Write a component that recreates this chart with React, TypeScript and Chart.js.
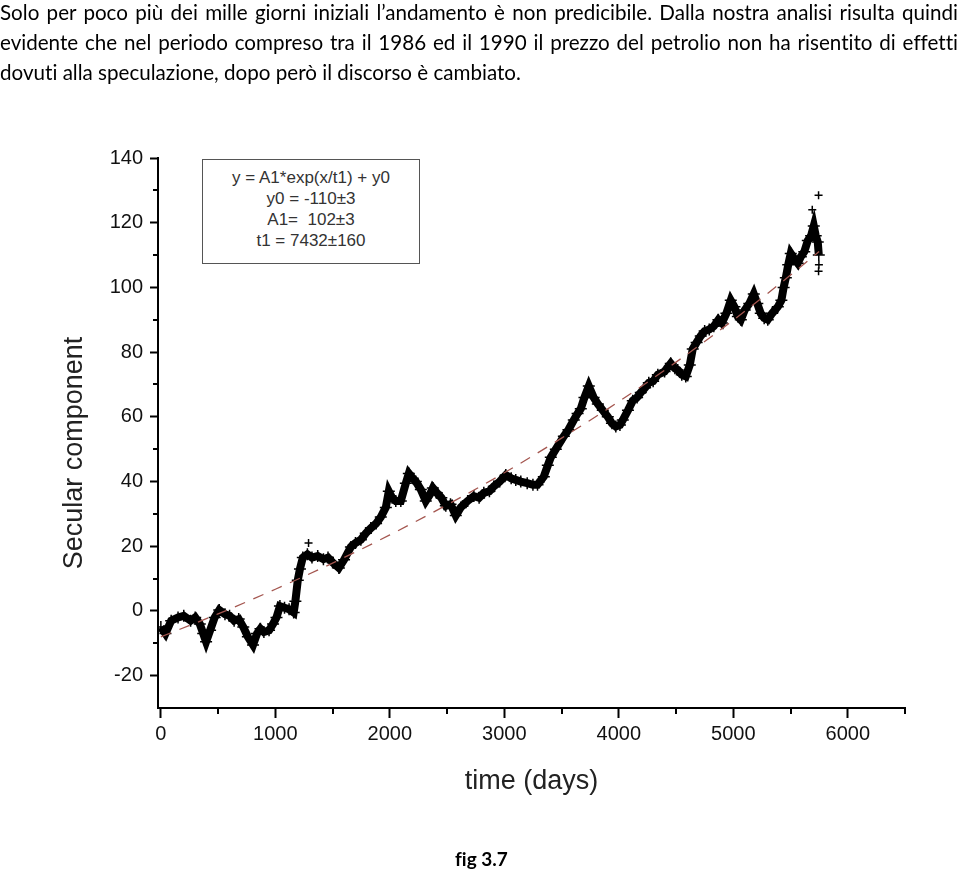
import React, { useEffect, useRef } from "react";
import { Chart, registerables } from "chart.js";

Chart.register(...registerables);

// ---- data ----
const dayValues: number[] = [
  0, 40, 90, 150, 200, 260, 300, 340, 370, 395, 430, 470, 510, 560, 600, 640, 680, 720, 760, 805,
  840, 870, 900, 945, 980, 1010, 1040, 1080, 1120, 1160, 1175, 1196, 1215, 1240, 1280, 1320, 1370,
  1420, 1460, 1500, 1555, 1600, 1660, 1700, 1747, 1790, 1834, 1880, 1921, 1965, 1991, 2020, 2052,
  2096, 2140, 2166, 2200, 2227, 2271, 2314, 2350, 2376, 2410, 2450, 2489, 2530, 2576, 2620, 2680,
  2734, 2780, 2821, 2870, 2908, 2960, 3013, 3060, 3100, 3144, 3200, 3250, 3290, 3345, 3380, 3406,
  3450, 3520, 3560, 3607, 3640, 3668, 3700, 3738, 3780, 3817, 3860, 3904, 3940, 3974, 4010, 4035,
  4080, 4122, 4160, 4192, 4230, 4262, 4300, 4341, 4400, 4454, 4490, 4515, 4550, 4585, 4620, 4646,
  4680, 4716, 4750, 4790, 4830, 4870, 4900, 4940, 4978, 5010, 5040, 5066, 5100, 5140, 5179, 5210,
  5240, 5270, 5301, 5340, 5389, 5420, 5440, 5459, 5480, 5502, 5530, 5563, 5590, 5620, 5651, 5680,
  5703, 5720, 5738, 5747,
];
const secularValues: number[] = [
  -5, -7, -3, -2, -1.5, -3, -2, -4, -7, -9.5, -6, -2, 0.3, -1, -1.5, -3, -2.5, -5, -8, -10.5,
  -7, -5.5, -6.5, -6, -4, -2, 1.5, 1, 0.5, -0.5, 3, 9.5, 13, 16.5, 17.5, 16.5, 17,
  16, 16.5, 15, 13.3, 15.8, 19.8, 21, 22, 24, 25.6, 27, 29, 32, 37, 35, 34,
  34, 39.5, 42.5, 41, 40, 37.5, 34, 36, 38, 36.5, 35, 32.5, 33, 29.5, 32, 34,
  35.5, 35, 36.5, 37, 38.5, 40, 42, 41, 40.5, 40, 39.5, 39, 39, 41.5, 45, 47.5,
  50, 54, 56, 59, 61, 62.5, 66, 69.5, 66, 64, 62, 60, 58, 57, 57.5, 59,
  62, 65, 66, 67.5, 69, 70.5, 71, 73, 74, 76.5, 75, 74.5, 73, 72.5, 76, 81,
  83, 85, 86.5, 87, 88, 90, 89, 92, 96, 94, 91, 90, 93, 95, 98, 95,
  92, 90.5, 90, 92, 94, 96, 100, 103, 107, 110.5, 109, 107.5, 109.5, 111, 114.5, 116,
  119, 116, 114, 110,
];
const outlierDays: number[] = [1290, 5690, 5745, 5745, 5748];
const outlierValues: number[] = [21, 124, 128.5, 105, 107];

// fitted curve y = A1*exp(x/t1) + y0 with the parameters shown in the box
const fitDays: number[] = [0, 500, 1000, 1500, 2000, 2500, 3000, 3500, 4000, 4500, 5000, 5500, 5750];
const fitValues: number[] = [-8.0, -0.9, 6.7, 14.8, 23.5, 32.8, 42.7, 53.4, 64.7, 76.9, 89.9, 103.8, 111.1];

const xMajorTicks: number[] = [0, 1000, 2000, 3000, 4000, 5000, 6000];
const xMinorTicks: number[] = [500, 1500, 2500, 3500, 4500, 5500, 6500];
const yMajorTicks: number[] = [-20, 0, 20, 40, 60, 80, 100, 120, 140];
const yMinorTicks: number[] = [-10, 10, 30, 50, 70, 90, 110, 130];

const yTitle = "Secular component";
const xTitle = "time (days)";

const fitLines: string[] = [
  "y = A1*exp(x/t1) + y0",
  "y0 = -110\u00b13",
  "A1=  102\u00b13",
  "t1 = 7432\u00b1160",
];

const paragraph: string[] = [
  "Solo per poco più dei mille giorni iniziali l’andamento è non predicibile. Dalla nostra analisi risulta quindi",
  "evidente che nel periodo compreso tra il 1986 ed il 1990 il prezzo del petrolio non ha risentito di effetti",
  "dovuti alla speculazione, dopo però il discorso è cambiato.",
];

const AXIS_FONT = "'Liberation Sans', Arial, sans-serif";
const TEXT_FONT = "Lato, 'Open Sans', sans-serif";

const minorTickPlugin = {
  id: "minorTicks",
  afterDraw(chart: any) {
    const ctx = chart.ctx;
    const xs = chart.scales.x;
    const ys = chart.scales.y;
    ctx.save();
    ctx.strokeStyle = "#000";
    ctx.lineWidth = 2;
    ctx.beginPath();
    xMinorTicks.forEach((v) => {
      const px = Math.round(xs.getPixelForValue(v));
      ctx.moveTo(px, xs.top);
      ctx.lineTo(px, xs.top + 6);
    });
    yMinorTicks.forEach((v) => {
      const py = Math.round(ys.getPixelForValue(v));
      ctx.moveTo(ys.right, py);
      ctx.lineTo(ys.right - 5, py);
    });
    ctx.stroke();
    // y-axis title (placed slightly below the axis centre, as in the source figure)
    const cy = (chart.chartArea.top + chart.chartArea.bottom) / 2 + 20;
    ctx.translate(ys.left + 16, cy);
    ctx.rotate(-Math.PI / 2);
    ctx.fillStyle = "#222";
    ctx.font = "27px " + AXIS_FONT;
    ctx.textAlign = "center";
    ctx.textBaseline = "middle";
    ctx.fillText(yTitle, 0, 0);
    ctx.restore();
  },
};

export default function App() {
  const canvasRef = useRef<HTMLCanvasElement | null>(null);

  useEffect(() => {
    if (!canvasRef.current) return;
    const dataPts = dayValues.map((d, i) => ({ x: d, y: secularValues[i] }));
    const fitPts = fitDays.map((d, i) => ({ x: d, y: fitValues[i] }));
    const outPts = outlierDays.map((d, i) => ({ x: d, y: outlierValues[i] }));

    const chart = new Chart(canvasRef.current, {
      type: "scatter",
      data: {
        datasets: [
          {
            label: "fit",
            data: fitPts,
            showLine: true,
            borderColor: "#a4564f",
            borderWidth: 1.3,
            borderDash: [11, 9],
            pointRadius: 0,
            cubicInterpolationMode: "monotone",
            order: 0,
          },
          {
            label: "secular",
            data: dataPts,
            showLine: true,
            borderColor: "#000",
            borderWidth: 8,
            pointStyle: "cross",
            pointRadius: 6,
            pointBorderWidth: 1.5,
            pointBorderColor: "#000",
            pointBackgroundColor: "#000",
            tension: 0,
            order: 1,
          },
          {
            label: "outliers",
            data: outPts,
            showLine: false,
            pointStyle: "cross",
            pointRadius: 4,
            pointBorderWidth: 1.5,
            pointBorderColor: "#000",
            order: 1,
          },
        ],
      },
      options: {
        animation: false,
        responsive: false,
        maintainAspectRatio: false,
        layout: { padding: { left: 59, right: 55, top: 158, bottom: 78 } },
        plugins: { legend: { display: false }, tooltip: { enabled: false } },
        scales: {
          x: {
            type: "linear",
            min: -25,
            max: 6500,
            afterBuildTicks: (s: any) => {
              s.ticks = xMajorTicks.map((v) => ({ value: v }));
            },
            afterFit: (s: any) => {
              s.height = 90;
            },
            border: { display: true, color: "#000", width: 2 },
            grid: {
              display: true,
              drawOnChartArea: false,
              drawTicks: true,
              tickLength: 10,
              tickWidth: 2,
              tickColor: "#000",
            },
            ticks: {
              color: "#111",
              font: { family: AXIS_FONT, size: 20 },
              padding: 4,
              maxRotation: 0,
              callback: (v: any) => String(v),
            },
            title: {
              display: true,
              text: xTitle,
              color: "#222",
              font: { family: AXIS_FONT, size: 27 },
              padding: { top: 0, bottom: 0 },
            },
          },
          y: {
            type: "linear",
            min: -30,
            max: 140,
            afterBuildTicks: (s: any) => {
              s.ticks = yMajorTicks.map((v) => ({ value: v }));
            },
            afterFit: (s: any) => {
              s.width = 99;
            },
            border: { display: true, color: "#000", width: 2 },
            grid: {
              display: true,
              drawOnChartArea: false,
              drawTicks: true,
              tickLength: 8,
              tickWidth: 2,
              tickColor: "#000",
            },
            ticks: {
              color: "#111",
              font: { family: AXIS_FONT, size: 20 },
              padding: 7,
              callback: (v: any) => String(v),
            },
            title: { display: false },
          },
        },
      },
      plugins: [minorTickPlugin],
    } as any);
    return () => chart.destroy();
  }, []);

  const lineStyle = (i: number): React.CSSProperties => ({
    position: "absolute",
    left: 0,
    top: -3 + i * 30,
    width: 958,
    fontFamily: TEXT_FONT,
    fontSize: 20.6,
    fontVariantLigatures: "none",
    lineHeight: "30px",
    whiteSpace: "nowrap",
    textAlign: i < 2 ? "justify" : "left",
    textAlignLast: i < 2 ? "justify" : "left",
    color: "#000",
  });

  return (
    <div style={{ position: "absolute", left: 0, top: 0, width: 960, height: 876, background: "#fff", overflow: "hidden" }}>
      <canvas ref={canvasRef} width={960} height={876} style={{ position: "absolute", left: 0, top: 0, width: 960, height: 876 }} />
      {paragraph.map((t, i) => (
        <div key={i} style={lineStyle(i)}>{t}</div>
      ))}
      <div
        style={{
          position: "absolute",
          left: 202,
          top: 159,
          width: 218,
          height: 105,
          boxSizing: "border-box",
          border: "1px solid #555",
          background: "#fff",
          paddingTop: 7,
          textAlign: "center",
          fontFamily: AXIS_FONT,
          fontSize: 17,
          lineHeight: "21px",
          color: "#333",
        }}
      >
        {fitLines.map((t, i) => (
          <div key={i} style={{ whiteSpace: "pre" }}>{t}</div>
        ))}
      </div>
      <div
        style={{
          position: "absolute",
          left: 455,
          top: 847,
          fontFamily: TEXT_FONT,
          fontWeight: "bold",
          fontSize: 19,
          fontVariantLigatures: "none",
          lineHeight: "24px",
          color: "#000",
        }}
      >
        fig 3.7
      </div>
    </div>
  );
}
